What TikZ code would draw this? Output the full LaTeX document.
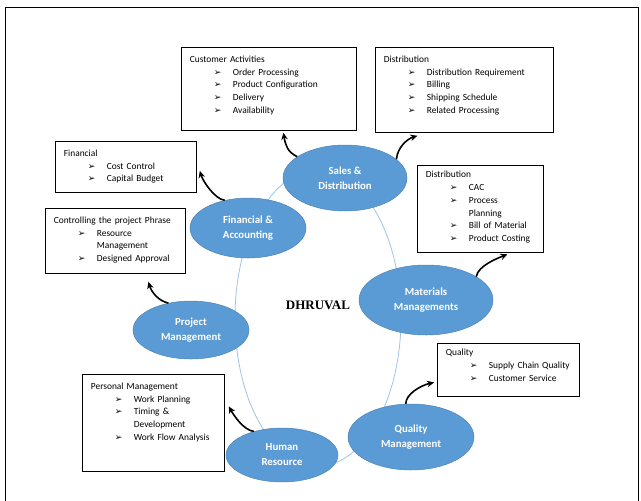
\documentclass[tikz,border=0pt]{standalone}
\usepackage{fontspec}
\setmainfont{Carlito}
\newfontfamily\arrowfont{DejaVu Sans}
\newfontfamily\titlefont{Liberation Serif}
\usetikzlibrary{shapes.geometric, arrows.meta}
\definecolor{ellblue}{RGB}{91,155,213}
\definecolor{ringblue}{RGB}{157,195,230}
\newcommand{\bul}{{\arrowfont\fontsize{9}{9}\selectfont ➢}}
\newcommand{\lhead}[1]{\mbox{#1}}
\newcommand{\litem}[1]{\mbox{\hspace*{24pt}\makebox[19pt][l]{\bul}#1}}
\newcommand{\lcont}[1]{\mbox{\hspace*{43pt}#1}}

\begin{document}
\begin{tikzpicture}[x=1pt, y=-1pt,
  unit/.style={ellipse, fill=ellblue, draw=ellblue!85!black, line width=0.5pt, inner sep=0pt,
    text=white, font=\fontsize{10.8}{15}\selectfont\bfseries, align=center},
  listbox/.style={draw, line width=0.8pt, anchor=north west, inner xsep=8.5pt, inner ysep=0pt,
    text height=15pt, align=left, font=\fontsize{9.4}{12.7}\selectfont},
  curly/.style={line width=1.6pt, -{Stealth[length=7pt,width=6.5pt]}}]

\useasboundingbox (0,0) rectangle (641,501);
\draw[line width=0.8pt] (5,501) -- (5,7) -- (638,7) -- (638,501);

% ring behind the units
\draw[ringblue, line width=0.8pt] (318,318) ellipse [x radius=83, y radius=148];

\node[font=\titlefont\bfseries\fontsize{13}{15}\selectfont] (title) at (318,305) {DHRUVAL};

% units
\node[unit, minimum width=124pt, minimum height=66pt] (sales) at (345,178) {Sales \&\\Distribution};
\node[unit, minimum width=116pt, minimum height=60pt] (finacc) at (248,228) {Financial \&\\Accounting};
\node[unit, minimum width=116pt, minimum height=58pt] (projm) at (191,330) {Project\\Management};
\node[unit, minimum width=112pt, minimum height=54pt] (humres) at (282,455) {Human\\Resource};
\node[unit, minimum width=134pt, minimum height=70pt] (matm) at (426,300) {Materials\\Managements};
\node[unit, minimum width=126pt, minimum height=66pt] (qualm) at (411,437) {Quality\\Management};

% activity boxes
\node[listbox, text width=158pt, text depth=68pt] (custbox) at (181,47)
  {\lhead{Customer Activities}\\ \litem{Order Processing}\\ \litem{Product Configuration}\\
   \litem{Delivery}\\ \litem{Availability}};
\node[listbox, text width=161pt, text depth=70pt] (distbox) at (375,47)
  {\lhead{Distribution}\\ \litem{Distribution Requirement}\\ \litem{Billing}\\
   \litem{Shipping Schedule}\\ \litem{Related Processing}};
\node[listbox, text width=124pt, text depth=36pt] (finbox) at (55,141)
  {\lhead{Financial}\\ \litem{Cost Control}\\ \litem{Capital Budget}};
\node[listbox, text width=123pt, text depth=50pt] (ctrlbox) at (45,208)
  {\lhead{Controlling the project Phrase}\\ \litem{Resource}\\ \lcont{Management}\\
   \litem{Designed Approval}};
\node[listbox, text width=109pt, text height=12.5pt, text depth=74.5pt] (matbox) at (417,165)
  {\lhead{Distribution}\\ \litem{CAC}\\ \litem{Process}\\ \lcont{Planning}\\
   \litem{Bill of Material}\\ \litem{Product Costing}};
\node[listbox, text width=125pt, text height=12.5pt, text depth=40.5pt] (qualbox) at (437,343)
  {\lhead{Quality}\\ \litem{Supply Chain Quality}\\ \litem{Customer Service}};
\node[listbox, text width=125pt, text depth=82pt] (persbox) at (82,374)
  {\lhead{Personal Management}\\ \litem{Work Planning}\\ \litem{Timing \&}\\
   \lcont{Development}\\ \litem{Work Flow Analysis}};

% curly arrows
\draw[curly] (sales.156) .. controls +(-10,-5) and +(2,12) .. ([xshift=14.5pt,yshift=-2pt]custbox.south);
\draw[curly] (sales.20) .. controls +(1,-12) and +(-10,3) .. ([xshift=-47pt,yshift=-3pt]distbox.south);
\draw[curly] (finacc.130) .. controls +(-10,-1) and +(3,10) .. ([xshift=3pt,yshift=-4pt]finbox.east);
\draw[curly] (projm.130) .. controls +(-10,-2) and +(3,10) .. ([xshift=33pt,yshift=-8pt]ctrlbox.south);
\draw[curly] (matm.25) .. controls +(2,-11) and +(-10,4) .. ([xshift=27pt,yshift=-1.5pt]matbox.south);
\draw[curly] (qualm.99) .. controls +(0,-10) and +(-13,3) .. ([xshift=-3pt,yshift=-12.5pt]qualbox.west);
\draw[curly] (humres.140) .. controls +(-10,-1) and +(5,9) .. ([xshift=4pt,yshift=16.5pt]persbox.east);
\end{tikzpicture}
\end{document}
